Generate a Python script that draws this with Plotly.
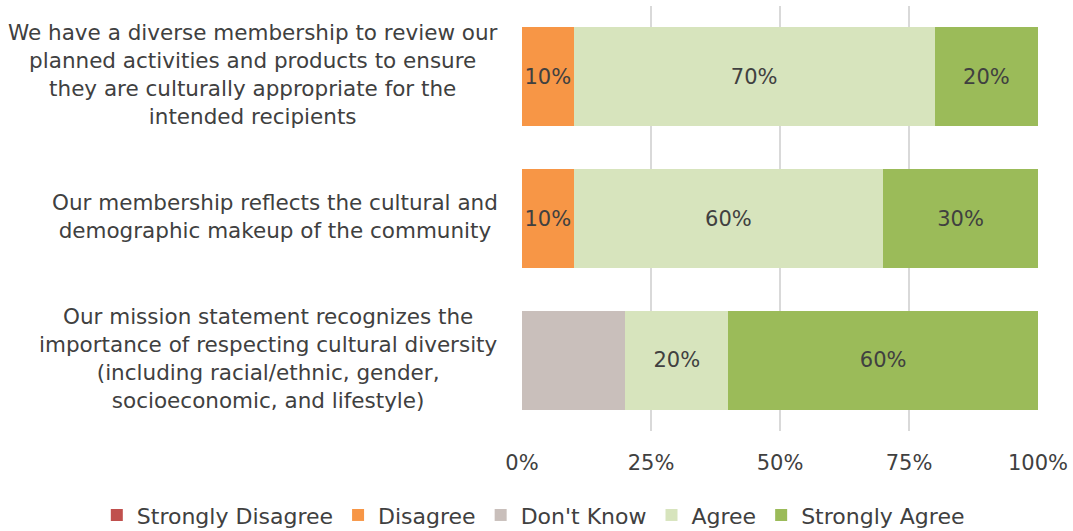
import plotly.graph_objects as go

categories = [
    "We have a diverse membership to review our<br>planned activities and products to ensure<br>they are culturally appropriate for the<br>intended recipients",
    "Our membership reflects the cultural and<br>demographic makeup of the community",
    "Our mission statement recognizes the<br>importance of respecting cultural diversity<br>(including racial/ethnic, gender,<br>socioeconomic, and lifestyle)",
]
series_names = ["Strongly Disagree", "Disagree", "Don't Know", "Agree", "Strongly Agree"]
strongly_disagree = [0, 0, 0]
disagree = [10, 10, 0]
dont_know = [0, 0, 20]
agree = [70, 60, 20]
strongly_agree = [20, 30, 60]
show_labels = {
    "Strongly Disagree": [False, False, False],
    "Disagree": [True, True, False],
    "Don't Know": [False, False, False],
    "Agree": [True, True, True],
    "Strongly Agree": [True, True, True],
}
colors = ["#C0504D", "#F79646", "#C9BFBB", "#D7E4BD", "#9BBB59"]
tick_vals = [0, 25, 50, 75, 100]
tick_text = ["0%", "25%", "50%", "75%", "100%"]

FONT = "DejaVu Sans"
TXT = "#404040"
ids = ["c0", "c1", "c2"]

fig = go.Figure()
for name, vals, col in zip(series_names,
                           [strongly_disagree, disagree, dont_know, agree, strongly_agree],
                           colors):
    texts = [f"{v}%" if s and v > 0 else "" for v, s in zip(vals, show_labels[name])]
    fig.add_trace(go.Bar(
        y=ids, x=vals, name=name, orientation="h",
        marker=dict(color=col, line=dict(width=0)),
        text=texts, textposition="inside", insidetextanchor="middle",
        textangle=0, constraintext="none",
        textfont=dict(family=FONT, size=21, color=TXT),
        cliponaxis=False,
    ))

for cid, label in zip(ids, categories):
    fig.add_annotation(
        x=0, xref="paper", y=cid, yref="y", text=label, showarrow=False,
        xanchor="right", align="center", xshift=-22, yshift=2,
        font=dict(family=FONT, size=21.5, color=TXT),
    )

fig.update_layout(
    barmode="stack", bargap=0.3,
    width=1073, height=531,
    margin=dict(l=522, r=35, t=6, b=100, autoexpand=False),
    paper_bgcolor="white", plot_bgcolor="white",
    font=dict(family=FONT, size=20, color=TXT),
    uniformtext=dict(mode="show", minsize=21),
    xaxis=dict(range=[0, 100], tickvals=tick_vals, ticktext=tick_text,
               showgrid=True, gridcolor="#D9D9D9", gridwidth=2,
               zeroline=False, showline=False, ticks="", ticklabelstandoff=17,
               tickfont=dict(family=FONT, size=21, color=TXT)),
    yaxis=dict(autorange="reversed", showticklabels=False, showgrid=False,
               zeroline=False, ticks=""),
    legend=dict(orientation="h", x=-0.824, xanchor="left", xref="paper",
                y=-0.198, yanchor="middle", yref="paper",
                font=dict(family=FONT, size=22, color=TXT),
                traceorder="normal", itemwidth=30),
    showlegend=True,
)
fig.write_html("out.html", config={"displayModeBar": False},
               post_script="document.body.style.margin='0';")
